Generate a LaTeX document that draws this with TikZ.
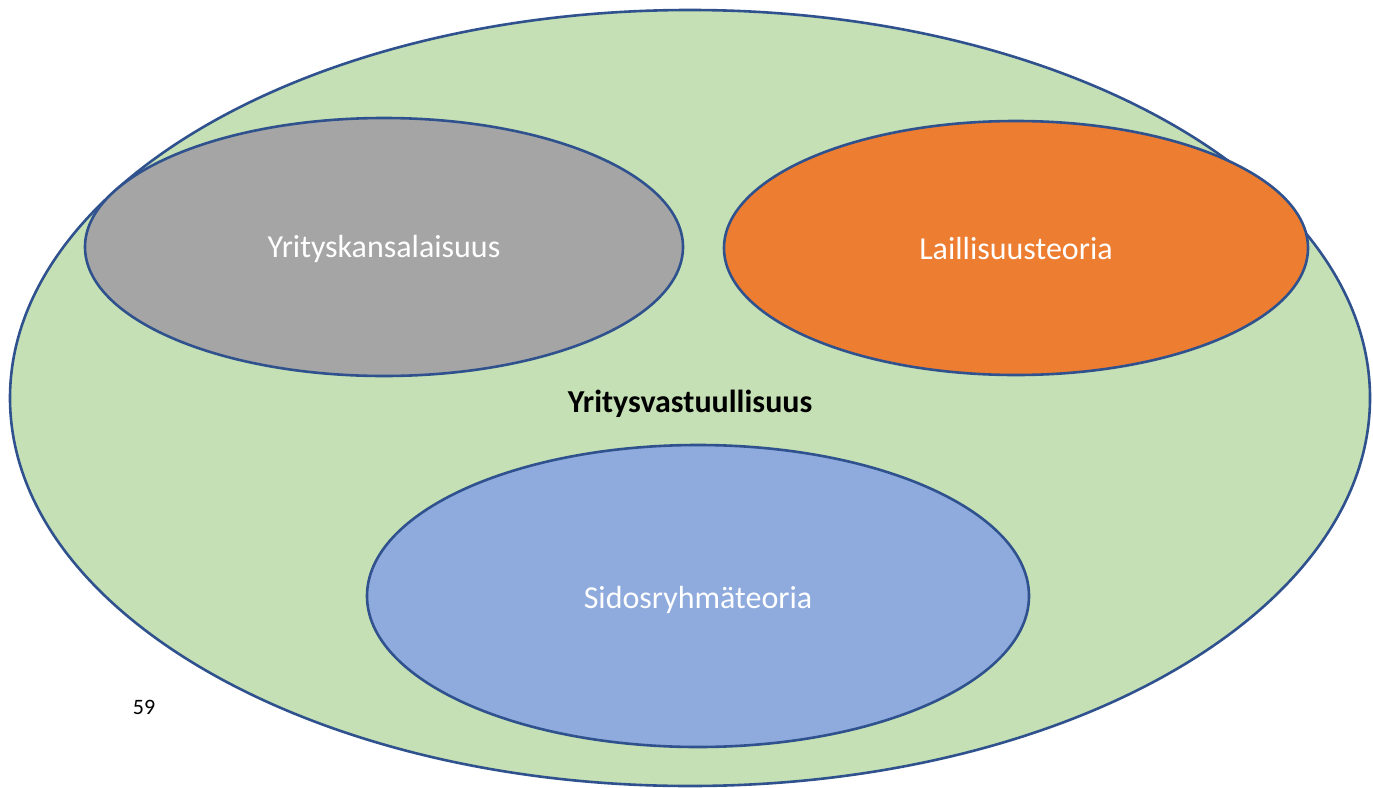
\documentclass[tikz,border=0pt]{standalone}
\usepackage{fontspec}
\setmainfont{Carlito}
\definecolor{edge}{HTML}{2F528F}
\definecolor{greenf}{HTML}{C5E0B4}
\definecolor{grayf}{HTML}{A5A5A5}
\definecolor{orangef}{HTML}{ED7D31}
\definecolor{bluef}{HTML}{8FAADC}
\tikzset{blob/.style={draw=edge, line width=2.6pt}}
\begin{document}
\begin{tikzpicture}[x=1pt,y=-1pt]
\useasboundingbox (0,0) rectangle (1373,787);
\fill[white] (0,0) rectangle (1373,787);
\draw[blob, fill=greenf] (690,398) ellipse [x radius=680, y radius=388];
\draw[blob, fill=grayf] (384,247) ellipse [x radius=299, y radius=129];
\draw[blob, fill=orangef] (1016,248) ellipse [x radius=292, y radius=127];
\draw[blob, fill=bluef] (698,596) ellipse [x radius=331, y radius=151];
\node[text=white, font=\fontsize{32}{38}\selectfont] (yk) at (384,249) {Yrityskansalaisuus};
\node[text=white, font=\fontsize{32}{38}\selectfont] (lt) at (1016,249) {Laillisuusteoria};
\node[text=white, font=\fontsize{32}{38}\selectfont] (sr) at (698,600) {Sidosryhmäteoria};
\node[text=black, font=\bfseries\fontsize{32}{38}\selectfont] (yv) at (690,404) {Yritysvastuullisuus};
\node[text=black, font=\fontsize{22}{26}\selectfont] (num) at (144,707) {59};
\end{tikzpicture}
\end{document}
